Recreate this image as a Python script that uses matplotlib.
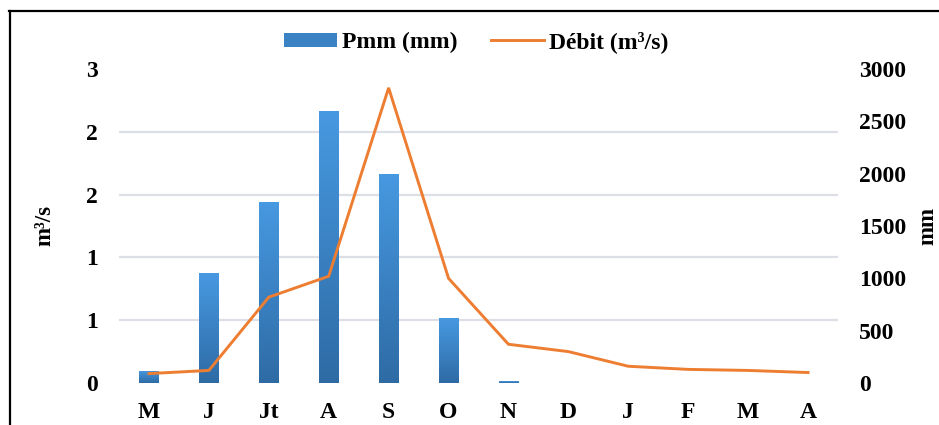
import matplotlib
matplotlib.use("Agg")
import matplotlib.pyplot as plt
import numpy as np
from matplotlib.colors import LinearSegmentedColormap
from matplotlib.lines import Line2D
from matplotlib.patches import Patch
from matplotlib.ticker import FixedLocator, FormatStrFormatter

months = ["M", "J", "Jt", "A", "S", "O", "N", "D", "J", "F", "M", "A"]
pmm = [115, 1050, 1730, 2600, 2000, 620, 18, 0, 0, 0, 0, 0]          # mm, right axis
debit = [0.09, 0.12, 0.82, 1.02, 2.82, 1.0, 0.37, 0.30, 0.16, 0.13, 0.12, 0.10]  # m3/s, left axis
left_ticks = [0, 0.6, 1.2, 1.8, 2.4, 3.0]
right_ticks = [0, 500, 1000, 1500, 2000, 2500, 3000]

plt.rcParams["font.family"] = ["Liberation Serif", "DejaVu Serif"]
plt.rcParams["font.weight"] = "bold"

W, H = 939, 425
fig = plt.figure(figsize=(W / 100, H / 100), dpi=100)
ax = fig.add_axes([119 / W, 1 - 383 / H, (838 - 119) / W, (383 - 69) / H])
ax2 = ax.twinx()
ax.set_zorder(ax2.get_zorder() + 1)
ax.patch.set_visible(False)

x = np.arange(len(months))
bar_top, bar_bot = "#4799E1", "#2E6BA5"
cmap = LinearSegmentedColormap.from_list("barg", [bar_bot, bar_top])
bars = ax2.bar(x, pmm, width=0.33, color=bar_top, zorder=2)
grad = np.linspace(0, 1, 256).reshape(-1, 1)
for b in bars:
    if b.get_height() <= 0:
        continue
    bx, by, bw, bh = b.get_x(), b.get_y(), b.get_width(), b.get_height()
    im = ax2.imshow(grad, cmap=cmap, origin="lower", aspect="auto",
                    extent=(bx, bx + bw, by, by + bh), zorder=3)
    im.set_clip_path(b)

ax.plot(x, debit, color="#ED7D31", lw=2.1, solid_joinstyle="miter", zorder=4)

ax.set_xlim(-0.5, len(months) - 0.5)
ax.set_ylim(0, 3)
ax2.set_ylim(0, 3000)

ax.set_yticks(left_ticks)
ax.yaxis.set_major_formatter(FormatStrFormatter("%.0f"))
ax2.set_yticks(right_ticks)
ax.set_xticks(x)
ax.set_xticklabels(months)

# gridlines behind the bars, aligned with the left axis ticks
ax2.yaxis.set_minor_locator(FixedLocator([t * 1000 for t in left_ticks]))
ax2.grid(True, which="minor", axis="y", color="#DCE0E6", lw=1.6, zorder=0)
ax2.set_axisbelow(True)

for a in (ax, ax2):
    for s in a.spines.values():
        s.set_visible(False)
    a.tick_params(length=0, labelsize=17)
    a.tick_params(which="minor", length=0)
ax.tick_params(axis="y", pad=15)
ax2.tick_params(axis="y", pad=15)
ax.tick_params(axis="x", pad=14)

ax.set_ylabel("m³/s", fontsize=16.5, fontweight="bold", labelpad=22)
ax2.set_ylabel("mm", fontsize=16.5, fontweight="bold", rotation=90, labelpad=8)

handles = [Patch(facecolor="#3B82C4", edgecolor="none"),
           Line2D([], [], color="#ED7D31", lw=2.1)]
fig.legend(handles, ["Pmm (mm)", "Débit (m³/s)"], loc="center",
           bbox_to_anchor=(0.507, 1 - 42 / H), ncol=2, frameon=False,
           fontsize=17, handlelength=2.25, handleheight=0.55,
           handletextpad=0.2, columnspacing=1.4)

# outer frame (top and left edges visible in the crop)
fig.add_artist(Line2D([9 / W, 1.0], [1 - 10.5 / H, 1 - 10.5 / H],
                      transform=fig.transFigure, color="black", lw=1.6))
fig.add_artist(Line2D([9.5 / W, 9.5 / W], [0, 1 - 10.5 / H],
                      transform=fig.transFigure, color="black", lw=1.6))

fig.savefig("out.png", dpi=100)
